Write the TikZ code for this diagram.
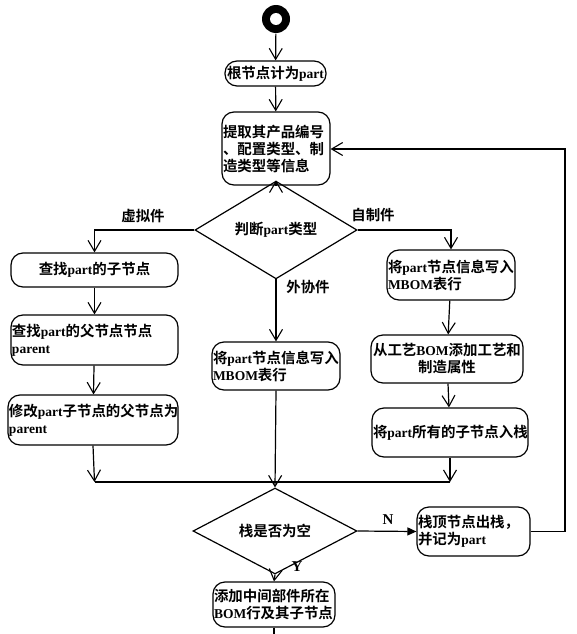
\documentclass[tikz,border=0pt]{standalone}
\usepackage{fontspec}
\setmainfont{Liberation Serif}
\newfontfamily\cjk[Scale=1.07,UprightFont={* Bold},BoldFont={* Bold}]{Noto Sans CJK SC}
\newcommand\C[1]{{\cjk #1}}
\usetikzlibrary{shapes.geometric,arrows.meta}
\begin{document}
\begin{tikzpicture}[x=1pt,y=-1pt,
  line width=1.2pt,
  every node/.style={font=\fontsize{13.5}{17}\selectfont\bfseries},
  box/.style={draw, rounded corners=12pt, inner sep=1pt, align=left},
  cbox/.style={draw, rounded corners=12pt, inner sep=1pt, align=center},
  decide/.style={draw, diamond, inner sep=0pt},
  lbl/.style={inner sep=0pt},
  flow/.style={-{Straight Barb[length=11pt,width=13pt,line width=1.1pt]}},
  fflow/.style={-{Triangle[length=9pt,width=8pt]}}
]
\useasboundingbox (0,0) rectangle (577,634);

\node[circle, fill=black, minimum size=28pt, inner sep=0pt] (start) at (276,19) {};
\fill[white] (start.center) circle (6pt);

\node[cbox, text width=99pt, minimum height=25pt] (root) at (275.5,73.5) {\C{根节点计为}part};
\node[box, text width=106pt, minimum height=73pt] (extract) at (276,148.5)
  {\C{提取其产品编号}\\\C{、配置类型、制}\\\C{造类型等信息}};
\node[decide, minimum width=162pt, minimum height=46pt] (judge) at (276,230) {\C{判断}part\C{类型}};

\node[cbox, text width=165pt, minimum height=34pt] (left1) at (94.5,270) {\C{查找}part\C{的子节点}};
\node[box, text width=165pt, minimum height=50pt] (left2) at (94.5,340) {\C{查找}part\C{的父节点节点}\\parent};
\node[box, text width=168pt, minimum height=50pt] (left3) at (93,420) {\C{修改}part\C{子节点的父节点为}\\parent};

\node[box, text width=126pt, minimum height=48pt] (mid) at (276,366) {\C{将}part\C{节点信息写入}\\MBOM\C{表行}};

\node[box, text width=126pt, minimum height=50pt] (right1) at (451,275) {\C{将}part\C{节点信息写入}\\MBOM\C{表行}};
\node[cbox, text width=150pt, minimum height=48pt] (right2) at (447,359) {\C{从工艺}BOM\C{添加工艺和}\\\C{制造属性}};
\node[cbox, text width=154pt, minimum height=49pt] (right3) at (450,432.5) {\C{将}part\C{所有的子节点入栈}};

\node[decide, minimum width=164pt, minimum height=48pt] (judge2) at (275,531) {\C{栈是否为空}};
\node[box, text width=111pt, minimum height=49pt] (pop) at (473.5,531.5) {\C{栈顶节点出栈，}\\\C{并记为}part};
\node[box, text width=120pt, minimum height=45pt] (add) at (274,604.5) {\C{添加中间部件所在}\\BOM\C{行及其子节点}};

\coordinate (mleft) at (94.5,482);
\coordinate (mright) at (450,482);
\coordinate (back1) at (565,531.5);
\coordinate (back2) at (565,149);
\coordinate (bend) at (274,634);

\draw[flow] (start) -- (root);
\draw[flow] (root) -- (extract);
\draw[flow] (extract) -- (judge);
\draw[flow] (judge.west) -| (left1.north);
\draw[flow] (judge.east) -| (right1.north);
\draw[flow] (judge.south) -- (mid.north);
\draw[flow] (left1) -- (left2);
\draw[flow] (left2) -- (left3);
\draw[flow] (right1) -- (right2);
\draw[flow] (right2) -- (right3);
\draw[flow] (left3.south) -- (mleft);
\draw[flow] (right3.south) -- (mright);
\draw (mleft) -- (mright);
\draw[flow] (mid.south) -- (judge2.north);
\draw[fflow] (judge2.east) -- (pop.west);
\draw[flow] (pop.east) -- (back1) -- (back2) -- (extract.east |- back2);
\draw[flow] (judge2.south) -- (add.north);
\draw (add.south) -- (bend);

\node[lbl] (lv) at (143,216) {\C{虚拟件}};
\node[lbl] (lz) at (373,215) {\C{自制件}};
\node[lbl] (lw) at (308,287) {\C{外协件}};
\node[lbl, font=\fontsize{15}{17}\selectfont\bfseries] (ln) at (388,520) {N};
\node[lbl, font=\fontsize{15}{17}\selectfont\bfseries] (ly) at (297,567) {Y};
\end{tikzpicture}
\end{document}
